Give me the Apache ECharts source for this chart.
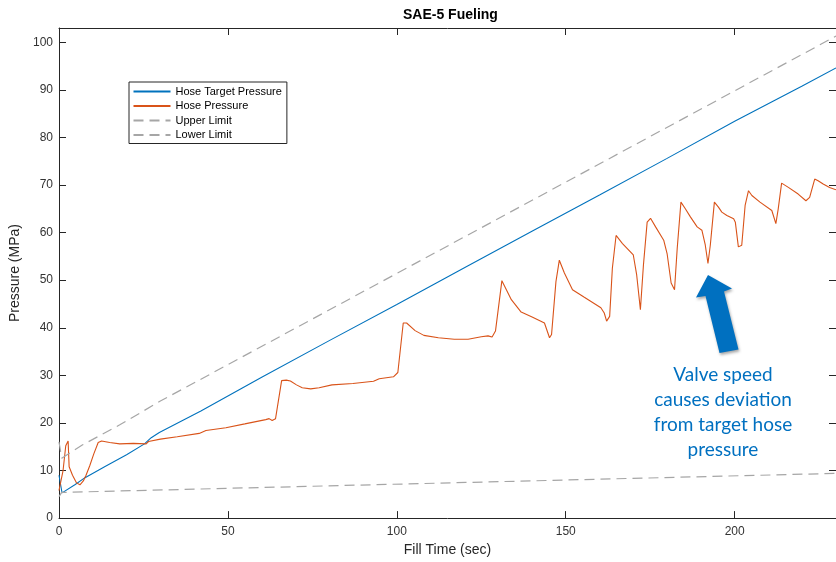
<!DOCTYPE html>
<html>
<head>
<meta charset="utf-8">
<title>SAE-5 Fueling</title>
<script src="https://cdn.jsdelivr.net/npm/echarts@6/dist/echarts.min.js"></script>
<style>
html, body { margin: 0; padding: 0; background: #fff; }
#main { width: 836px; height: 562px; }
</style>
</head>
<body>
<div id="main"></div>
<script>
// values: fill time (sec) and pressure (MPa)
var targetTime = [0, 0.9, 4.7, 7.7, 13.5, 20, 25.3, 27.3, 29.7, 42, 60, 80, 100, 120, 140, 160, 180, 200, 220, 230];
var targetPressure = [9, 5.3, 7.0, 8.5, 10.8, 13.3, 15.6, 16.9, 18.0, 22.5, 29.6, 37.3, 44.9, 52.6, 60.3, 67.9, 75.6, 83.4, 90.8, 94.6];

var hoseTime = [0, 0.5, 1.2, 2, 2.7, 3.0, 4, 5.2, 6.2, 7.2, 8, 9.1, 10.3, 11.6, 12.6, 15, 18, 22, 25.8, 26.5,
    30, 35, 41.5, 43.5, 49.4, 55, 61.2, 62.2, 63.1, 64.1, 65.9, 67.3, 68.5, 70.3, 72, 74.5, 77, 80.8, 87, 93.1,
    94.8, 99, 100.3, 101.9, 102.9, 105.4, 108, 112.3, 117, 121.1, 125, 127, 128.2, 129.2, 131.1, 133.9, 136.8, 140.2, 143.7, 144.2,
    145.2, 145.8, 147.1, 148.1, 149.6, 152, 155.5, 160.4, 161.4, 162.1, 163.0, 163.8, 164.9, 166.8, 170, 171, 172.1, 173, 174.1, 175.1,
    176.6, 179, 180, 181.2, 182.2, 183, 184.1, 185.4, 186.9, 188.9, 190.3, 191.3, 192.1, 192.8, 194, 195.2, 196.2, 197.7, 199.7, 200.2,
    201.1, 202.1, 203.1, 204.1, 205.1, 207.5, 211, 212.2, 212.9, 213.9, 215.9, 218.8, 221.1, 222.2, 223.7, 224.7, 226.2, 228.1, 230];
var hosePressure = [5.8, 5.9, 10, 15.2, 16.2, 10.8, 9, 7.4, 7.0, 7.8, 9, 11, 13.5, 15.9, 16.2, 15.9, 15.6, 15.7, 15.6, 16.1,
    16.6, 17.1, 17.8, 18.4, 19.0, 19.8, 20.7, 20.9, 20.5, 20.9, 28.9, 29.0, 28.8, 28.0, 27.4, 27.15, 27.4, 28.0, 28.3, 28.75,
    29.3, 29.7, 30.6, 41.0, 41.0, 39.4, 38.4, 37.9, 37.6, 37.6, 38.1, 38.3, 38.05, 39.3, 49.9, 45.9, 43.3, 42.2, 41.0, 40.8,
    37.9, 38.6, 49.7, 54.2, 51.5, 48.0, 46.4, 44.2, 43.1, 41.4, 42.4, 52.5, 59.4, 57.7, 55.3, 51.1, 43.8, 53.2, 62.2, 63.0,
    61.2, 58.4, 55.6, 49.4, 48.0, 56.7, 66.4, 65.0, 63.3, 61.2, 60.5, 57.4, 53.5, 57.4, 66.4, 65.35, 64.3, 63.6, 62.9, 62.2,
    57.0, 57.35, 65.7, 68.8, 67.8, 66.4, 64.65, 61.9, 65.0, 70.4, 69.5, 68.1, 66.7, 67.4, 71.25, 70.9, 70.2, 69.5, 69.0];

var upperTime = [0, 0.8, 7, 18, 30, 71, 230];
var upperPressure = [16, 12.6, 15.4, 19.6, 24.6, 40.3, 101.3];

var lowerTime = [0, 0.8, 230];
var lowerPressure = [4.5, 5.4, 9.4];

var xTicks = [0, 50, 100, 150, 200];
var yTicks = [0, 10, 20, 30, 40, 50, 60, 70, 80, 90, 100];

function zip(xs, ys) {
    var out = [];
    for (var i = 0; i < xs.length; i++) {
        out.push([xs[i], ys[i]]);
    }
    return out;
}

var chart = echarts.init(document.getElementById('main'), null, {renderer: 'canvas'});
var axisColor = '#262626';
var font = 'Liberation Sans';
var limitGray = '#a6a6a6';

function boxAxis(pos, ticks, min, max) {
    // mirrored axis for the top / right side of the box, ticks only
    return {
        type: 'value', position: pos, min: min, max: max,
        axisLine: {show: true, onZero: false, lineStyle: {color: axisColor, width: 1}},
        axisTick: {show: true, inside: true, length: 7, customValues: ticks, lineStyle: {color: axisColor}},
        axisLabel: {show: false},
        splitLine: {show: false}
    };
}

var option = {
    animation: false,
    backgroundColor: '#fff',
    title: {
        text: 'SAE-5 Fueling',
        left: 403, top: 8, padding: 0,
        textStyle: {fontSize: 14, fontWeight: 'bold', color: '#000', fontFamily: font}
    },
    legend: {
        orient: 'vertical',
        left: 129, top: 82,
        itemWidth: 37, itemHeight: 12, itemGap: 3.5,
        padding: [4, 5, 3, 3.5],
        borderColor: axisColor, borderWidth: 1,
        backgroundColor: '#fff',
        selectedMode: false,
        itemStyle: {opacity: 0},   // line only, no marker in the key
        textStyle: {fontSize: 11, color: '#000', fontFamily: font}
    },
    grid: {left: 59, top: 28, width: 781, height: 494, containLabel: false},
    xAxis: [{
        type: 'value', position: 'bottom', min: 0, max: 230,
        name: 'Fill Time (sec)', nameLocation: 'middle', nameGap: 24,
        nameTextStyle: {fontSize: 14, color: axisColor, fontFamily: font},
        axisLine: {show: true, onZero: false, lineStyle: {color: axisColor, width: 1}},
        axisTick: {show: true, inside: true, length: 7, customValues: xTicks, lineStyle: {color: axisColor}},
        axisLabel: {fontSize: 12, color: '#333', margin: 8, fontFamily: font, customValues: xTicks},
        splitLine: {show: false}
    }, boxAxis('top', xTicks, 0, 230)],
    yAxis: [{
        type: 'value', position: 'left', min: 0, max: 103,
        name: 'Pressure (MPa)', nameLocation: 'middle', nameGap: 33,
        nameTextStyle: {fontSize: 14, color: axisColor, fontFamily: font},
        axisLine: {show: true, onZero: false, lineStyle: {color: axisColor, width: 1}},
        axisTick: {show: true, inside: true, length: 7, customValues: yTicks, lineStyle: {color: axisColor}},
        axisLabel: {fontSize: 12, color: '#333', margin: 6, fontFamily: font, customValues: yTicks},
        splitLine: {show: false}
    }, boxAxis('right', yTicks, 0, 103)],
    series: [{
        name: 'Hose Target Pressure', type: 'line', symbol: 'none',
        data: zip(targetTime, targetPressure),
        lineStyle: {color: '#0072bd', width: 1.1},
        itemStyle: {color: '#0072bd'}
    }, {
        name: 'Hose Pressure', type: 'line', symbol: 'none',
        data: zip(hoseTime, hosePressure),
        lineStyle: {color: '#d95319', width: 1.1},
        itemStyle: {color: '#d95319'}
    }, {
        name: 'Upper Limit', type: 'line', symbol: 'none',
        data: zip(upperTime, upperPressure),
        lineStyle: {color: limitGray, width: 1.2, type: [10, 6]},
        itemStyle: {color: limitGray}
    }, {
        name: 'Lower Limit', type: 'line', symbol: 'none',
        data: zip(lowerTime, lowerPressure),
        lineStyle: {color: limitGray, width: 1.2, type: [10, 6]},
        itemStyle: {color: limitGray}
    }],
    graphic: [{
        // callout arrow
        type: 'polygon',
        z: 100,
        shape: {points: [[708, 275], [732, 288.5], [724, 291.5], [738.5, 349.5], [719.5, 353], [705.5, 296], [696, 297.5]]},
        style: {fill: '#0070c0', shadowBlur: 3, shadowColor: 'rgba(0,0,0,0.35)', shadowOffsetX: 1, shadowOffsetY: 2}
    }, {
        type: 'text',
        z: 100,
        x: 723, y: 362,
        style: {
            text: 'Valve speed\ncauses deviation\nfrom target hose\npressure',
            fill: '#0070c0', fontSize: 19, fontFamily: 'Lato',
            align: 'center', verticalAlign: 'top', lineHeight: 25
        }
    }]
};

chart.setOption(option);
</script>
</body>
</html>
